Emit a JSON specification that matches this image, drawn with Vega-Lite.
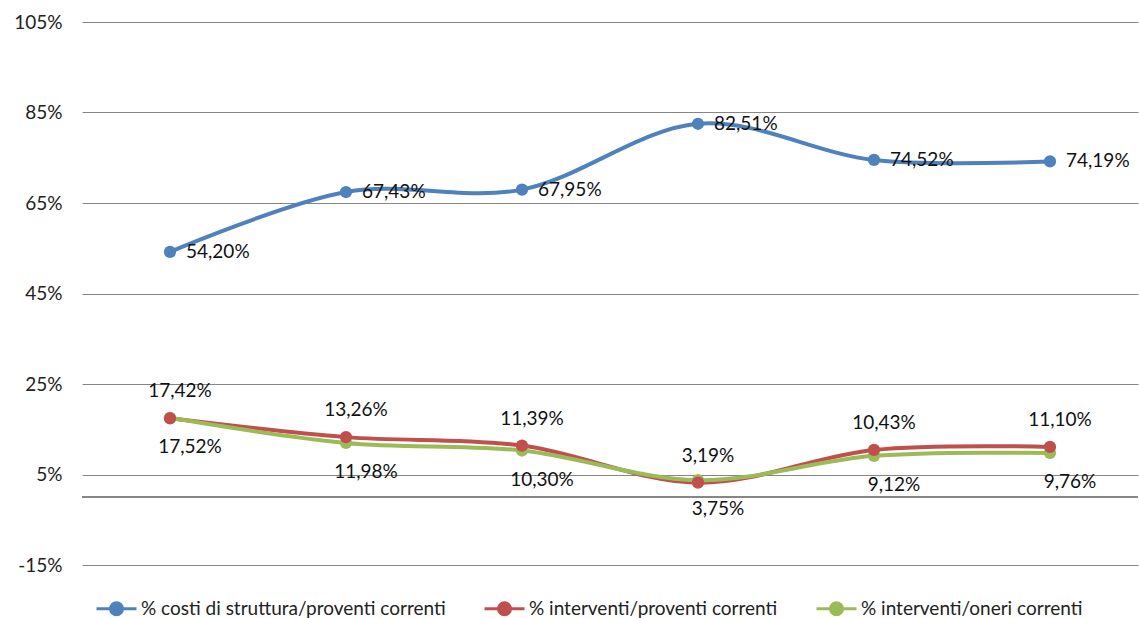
{
  "$schema": "https://vega.github.io/schema/vega-lite/v6.json",
  "width": 1056,
  "height": 543,
  "autosize": {"type": "none"},
  "padding": {"left": 82, "top": 22, "right": 1, "bottom": 53},
  "background": "white",
  "config": {
    "view": {"stroke": null},
    "font": "Lato",
    "axis": {"labelFont": "Lato", "labelFontSize": 19, "labelColor": "#222"},
    "legend": {"labelFont": "Lato", "labelFontSize": 19, "labelColor": "#222", "labelLimit": 0}
  },
  "data": {
    "values": [
      {"periodo": "1", "serie": "% costi di struttura/proventi correnti", "valore": 54.20},
      {"periodo": "2", "serie": "% costi di struttura/proventi correnti", "valore": 67.43},
      {"periodo": "3", "serie": "% costi di struttura/proventi correnti", "valore": 67.95},
      {"periodo": "4", "serie": "% costi di struttura/proventi correnti", "valore": 82.51},
      {"periodo": "5", "serie": "% costi di struttura/proventi correnti", "valore": 74.52},
      {"periodo": "6", "serie": "% costi di struttura/proventi correnti", "valore": 74.19},
      {"periodo": "1", "serie": "% interventi/proventi correnti", "valore": 17.42},
      {"periodo": "2", "serie": "% interventi/proventi correnti", "valore": 13.26},
      {"periodo": "3", "serie": "% interventi/proventi correnti", "valore": 11.39},
      {"periodo": "4", "serie": "% interventi/proventi correnti", "valore": 3.19},
      {"periodo": "5", "serie": "% interventi/proventi correnti", "valore": 10.43},
      {"periodo": "6", "serie": "% interventi/proventi correnti", "valore": 11.10},
      {"periodo": "1", "serie": "% interventi/oneri correnti", "valore": 17.52},
      {"periodo": "2", "serie": "% interventi/oneri correnti", "valore": 11.98},
      {"periodo": "3", "serie": "% interventi/oneri correnti", "valore": 10.30},
      {"periodo": "4", "serie": "% interventi/oneri correnti", "valore": 3.75},
      {"periodo": "5", "serie": "% interventi/oneri correnti", "valore": 9.12},
      {"periodo": "6", "serie": "% interventi/oneri correnti", "valore": 9.76}
    ]
  },
  "encoding": {
    "x": {"field": "periodo", "type": "ordinal", "scale": {"type": "point", "padding": 0.5}, "axis": null},
    "y": {
      "field": "valore", "type": "quantitative",
      "scale": {"domain": [-15, 105], "nice": false, "zero": false},
      "axis": {
        "values": [-15, 5, 25, 45, 65, 85, 105],
        "labelExpr": "datum.value + '%'",
        "domain": false, "ticks": false, "labelPadding": 20,
        "grid": true, "gridColor": "#868686", "gridWidth": 1, "title": null
      }
    }
  },
  "layer": [
    {
      "mark": {"type": "rule", "color": "#868686", "strokeWidth": 1},
      "encoding": {"y": {"datum": 0}, "x": null}
    },
    {
      "mark": {"type": "line", "interpolate": "cardinal", "strokeWidth": 4, "point": {"filled": true, "size": 150, "opacity": 1}},
      "encoding": {
        "color": {
          "field": "serie", "type": "nominal",
          "scale": {
            "domain": ["% costi di struttura/proventi correnti", "% interventi/proventi correnti", "% interventi/oneri correnti"],
            "range": ["#4F81BD", "#C0504D", "#9BBB59"]
          },
          "legend": {
            "title": null, "orient": "none", "direction": "horizontal",
            "legendX": 13, "legendY": 565,
            "symbolType": "M-1,0H1M-0.3,0A0.3,0.3 0 1,0 0.3,0A0.3,0.3 0 1,0 -0.3,0Z",
            "symbolSize": 1600, "symbolStrokeWidth": 3,
            "labelOffset": 3, "columnPadding": 32, "padding": 0,
            "encode": {"symbols": {"update": {"fill": {"scale": "color", "field": "value"}, "stroke": {"scale": "color", "field": "value"}, "strokeWidth": {"value": 3}, "opacity": {"value": 1}}}}
          }
        },
        "order": {"field": "serie"}
      }
    },
    {
      "transform": [
        {"filter": "datum.serie == '% costi di struttura/proventi correnti'"},
        {"calculate": "replace(format(datum.valore, '.2f'), '.', ',') + '%'", "as": "etichetta"}
      ],
      "mark": {"type": "text", "align": "left", "baseline": "middle", "dx": 16, "fontSize": 19, "color": "#111"},
      "encoding": {"text": {"field": "etichetta"}}
    },
    {
      "transform": [
        {"filter": "datum.serie == '% interventi/proventi correnti'"},
        {"calculate": "replace(format(datum.valore, '.2f'), '.', ',') + '%'", "as": "etichetta"}
      ],
      "mark": {"type": "text", "align": "center", "baseline": "middle", "dx": 10, "dy": -27, "fontSize": 19, "color": "#111"},
      "encoding": {"text": {"field": "etichetta"}}
    },
    {
      "transform": [
        {"filter": "datum.serie == '% interventi/oneri correnti'"},
        {"calculate": "replace(format(datum.valore, '.2f'), '.', ',') + '%'", "as": "etichetta"}
      ],
      "mark": {"type": "text", "align": "center", "baseline": "middle", "dx": 20, "dy": 29, "fontSize": 19, "color": "#111"},
      "encoding": {"text": {"field": "etichetta"}}
    }
  ]
}
